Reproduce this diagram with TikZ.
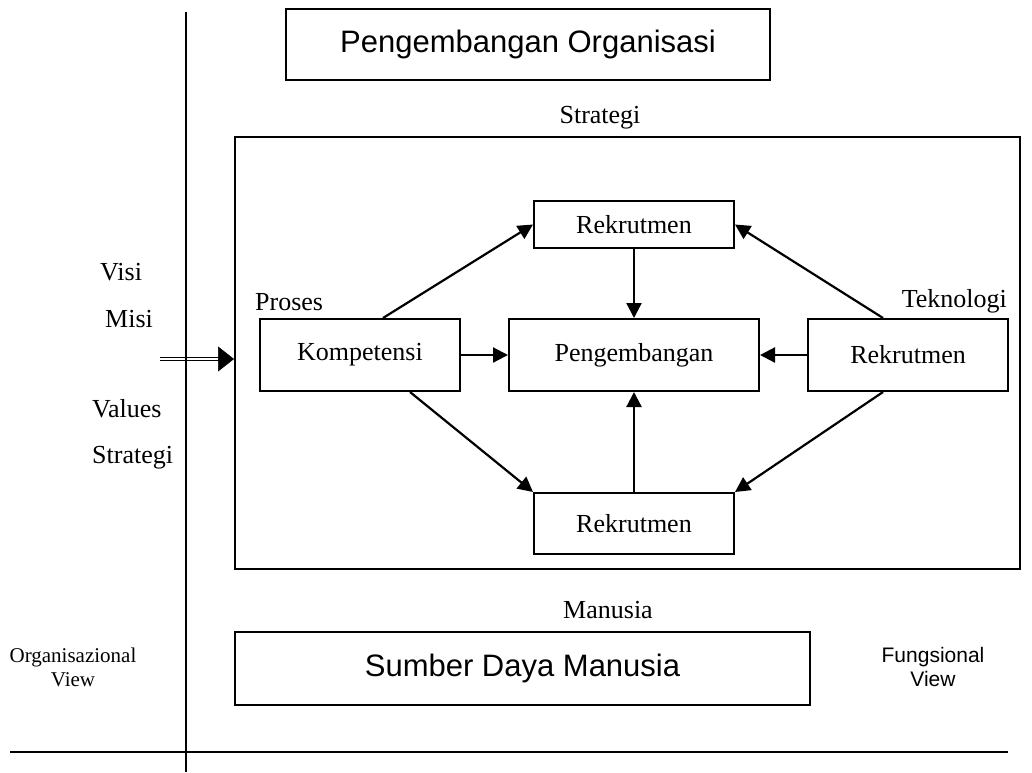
\documentclass[tikz,border=0pt]{standalone}
\usepackage{fontspec}
\setmainfont{Liberation Serif}
\setsansfont{Liberation Sans}
\usetikzlibrary{arrows.meta}

\newcommand{\lblfont}{\fontsize{26}{30}\selectfont}
\newcommand{\ttlfont}{\sffamily\fontsize{31}{36}\selectfont}
\newcommand{\viewfont}{\fontsize{21}{24}\selectfont}

\begin{document}
\begin{tikzpicture}[x=1pt,y=-1pt,
    box/.style={draw, line width=2pt, inner sep=0pt, font=\lblfont},
    lbl/.style={inner sep=0pt, font=\lblfont},
    flow/.style={line width=2.2pt, -{Triangle[length=15pt,width=15pt]}},
    dblline/.style={double, double distance=2pt, line width=0.9pt},
    bigtip/.style={line width=0.5pt, -{Triangle[length=16pt,width=25pt]}},
    axis/.style={line width=1.3pt}]
  \useasboundingbox (0,0) rectangle (1032,772);
%
  \node[box, minimum width=484, minimum height=71, font=\ttlfont] (orgdev) at (528,44.5) {Pengembangan Organisasi};
  \node[lbl, anchor=base] (stratlbl) at (600,123) {Strategi};
  \node[box, minimum width=785, minimum height=432] (strategibox) at (627.5,353) {};
%
  \node[box, minimum width=200, minimum height=47] (rektop) at (634,224.5) {Rekrutmen};
  \node[box, minimum width=250, minimum height=72] (pengem) at (634,355) {Pengembangan};
  \node[box, minimum width=200, minimum height=72] (kompet) at (360,355) {Kompetensi};
  \node[box, minimum width=200, minimum height=72] (rekright) at (908,355) {Rekrutmen};
  \node[box, minimum width=200, minimum height=61] (rekbot) at (634,523.5) {Rekrutmen};
  \node[lbl, anchor=base west] (proses) at (255,310) {Proses};
  \node[lbl, anchor=base east] (teknologi) at (1007,307) {Teknologi};
%
  \draw[flow] ([xshift=23]kompet.north) -- (rektop.west);
  \draw[flow] ([xshift=-25]rekright.north) -- (rektop.east);
  \draw[flow] (rektop.south) -- (pengem.north);
  \draw[flow] (kompet.east) -- (pengem.west);
  \draw[flow] (rekright.west) -- (pengem.east);
  \draw[flow] (rekbot.north) -- (pengem.south);
  \draw[flow] ([xshift=50]kompet.south) -- (rekbot.north west);
  \draw[flow] ([xshift=-25]rekright.south) -- (rekbot.north east);
%
  \node[lbl, anchor=base west] (visi) at (100,280) {Visi};
  \node[lbl, anchor=base west] (misi) at (105,327) {Misi};
  \node[lbl, anchor=base west] (values) at (92,417) {Values};
  \node[lbl, anchor=base west] (strategi) at (92,463) {Strategi};
  \coordinate (vmsrc) at (160,359);
  \draw[dblline] (vmsrc) -- ([xshift=60]vmsrc);
  \draw[bigtip] ([xshift=58]vmsrc) -- (vmsrc -| strategibox.west);
%
  \node[lbl, anchor=base] (manusia) at (608,618) {Manusia};
  \node[box, minimum width=575, minimum height=73, font=\ttlfont] (sdm) at (522.5,668.5) {Sumber Daya Manusia};
  \node[inner sep=0pt, align=center, font=\viewfont] (orgview) at (73,667) {Organisazional\\View};
  \node[inner sep=0pt, align=center, font=\sffamily\viewfont] (funcview) at (933,667) {Fungsional\\View};
%
  \coordinate (axtop) at (186,12);
  \coordinate (axbot) at (186,772);
  \coordinate (axl) at (10,752);
  \coordinate (axr) at (1008,752);
  \draw[axis] (axtop) -- (axbot);
  \draw[axis] (axl) -- (axr);
\end{tikzpicture}
\end{document}
